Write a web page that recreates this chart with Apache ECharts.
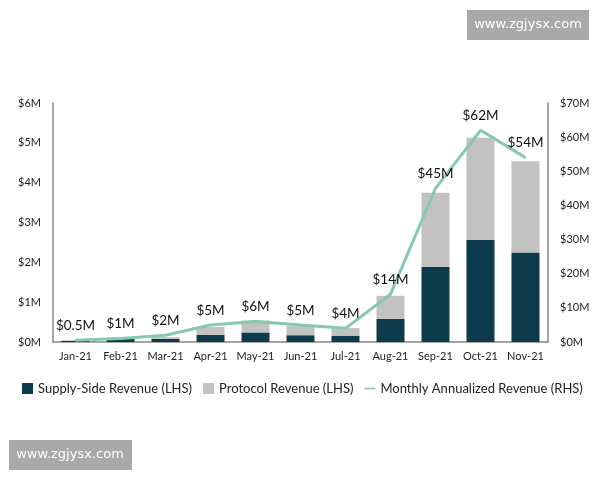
<!DOCTYPE html>
<html><head><meta charset="utf-8">
<script src="https://cdn.jsdelivr.net/npm/echarts@6/dist/echarts.min.js"></script>
<style>html,body{margin:0;padding:0;background:#fff;}#c{width:600px;height:480px;}</style>
</head><body><div id="c"></div>
<script>
const categories = ['Jan-21','Feb-21','Mar-21','Apr-21','May-21','Jun-21','Jul-21','Aug-21','Sep-21','Oct-21','Nov-21'];
const supplySide = [0.03,0.08,0.08,0.18,0.24,0.17,0.16,0.58,1.88,2.56,2.25];
const protocol = [0.01,0.03,0.04,0.20,0.30,0.23,0.19,0.58,1.87,2.57,2.29];
const annualized = [0.5,1,2,5,6,5,4,14,45,62,54];
const annualizedLabels = ['$0.5M','$1M','$2M','$5M','$6M','$5M','$4M','$14M','$45M','$62M','$54M'];
const leftTicks = [0,1,2,3,4,5,6];
const rightTicks = [0,10,20,30,40,50,60,70];

const font = 'Lato, "Open Sans", sans-serif';
const chart = echarts.init(document.getElementById('c'));
chart.setOption({
  animation:false,
  textStyle:{fontFamily:font},
  grid:{left:53,right:52,top:103,bottom:138},
  legend:{
    left:17, top:377, width:590, itemGap:11, itemWidth:11, itemHeight:11,
    textStyle:{fontSize:13,color:'#222',fontFamily:font},
    data:[
      {name:'Supply-Side Revenue (LHS)',icon:'rect'},
      {name:'Protocol Revenue (LHS)',icon:'rect'},
      {name:'Monthly Annualized Revenue (RHS)',icon:'path://M0,4h20v3h-20z',itemStyle:{color:'#86c9b0'}}
    ]
  },
  xAxis:{type:'category',data:categories,
    axisLine:{lineStyle:{color:'#888',width:1.5}},axisTick:{show:false},
    axisLabel:{color:'#222',fontSize:11,margin:9,interval:0,fontFamily:font}},
  yAxis:[
    {type:'value',min:0,max:6,interval:1,position:'left',
     axisLine:{show:true,lineStyle:{color:'#888',width:1.5}},axisTick:{show:false},splitLine:{show:false},
     axisLabel:{color:'#222',fontSize:11,margin:12,fontFamily:font,formatter:v=>'$'+v+'M'}},
    {type:'value',min:0,max:70,interval:10,position:'right',
     axisLine:{show:true,lineStyle:{color:'#888',width:1.5}},axisTick:{show:false},splitLine:{show:false},
     axisLabel:{color:'#222',fontSize:11,margin:12,fontFamily:font,formatter:v=>'$'+v+'M'}}
  ],
  series:[
    {name:'Supply-Side Revenue (LHS)',type:'bar',stack:'r',barWidth:28,data:supplySide,itemStyle:{color:'#0d3b4b'}},
    {name:'Protocol Revenue (LHS)',type:'bar',stack:'r',barWidth:28,data:protocol,itemStyle:{color:'#c2c2c2'}},
    {name:'Monthly Annualized Revenue (RHS)',type:'line',yAxisIndex:1,data:annualized,
     showSymbol:true,symbol:'circle',symbolSize:1,lineStyle:{color:'#86c9b0',width:3},itemStyle:{color:'#86c9b0'},
     label:{show:true,position:'top',distance:7,color:'#111',fontSize:13.5,fontFamily:font,
       formatter:p=>annualizedLabels[p.dataIndex]}}
  ],
  graphic:[
    {type:'rect',shape:{x:467,y:10,width:122,height:30},style:{fill:'#a9a9a9'}},
    {type:'text',x:528,y:25,style:{text:'www.zgjysx.com',fill:'#fff',font:'13px "DejaVu Sans", sans-serif',textAlign:'center',textVerticalAlign:'middle'}},
    {type:'rect',shape:{x:9,y:440,width:123,height:30},style:{fill:'#a9a9a9'}},
    {type:'text',x:70,y:455,style:{text:'www.zgjysx.com',fill:'#fff',font:'13px "DejaVu Sans", sans-serif',textAlign:'center',textVerticalAlign:'middle'}}
  ]
});
</script></body></html>
